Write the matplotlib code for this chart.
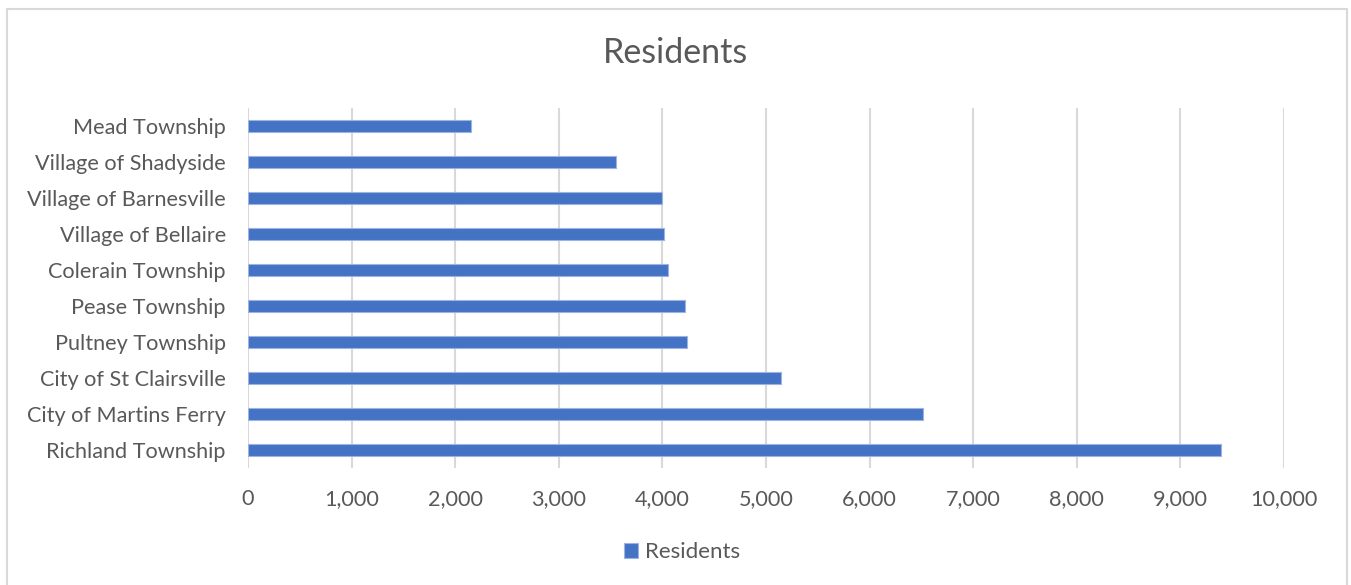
import matplotlib
matplotlib.use("Agg")
import matplotlib.pyplot as plt
from matplotlib.patches import Rectangle

# Data
places = ["Richland Township", "City of Martins Ferry", "City of St Clairsville",
          "Pultney Township", "Pease Township", "Colerain Township",
          "Village of Bellaire", "Village of Barnesville", "Village of Shadyside",
          "Mead Township"]
residents = [9390, 6518, 5142, 4237, 4218, 4057, 4015, 3999, 3549, 2150]
xticks = list(range(0, 10001, 1000))

plt.rcParams['font.family'] = ['Lato', 'DejaVu Sans']
text_col = '#595959'

fig = plt.figure(figsize=(13.51, 5.85), dpi=100)
ax = fig.add_axes([248 / 1351, 1 - 468 / 585, (1284 - 248) / 1351, 360 / 585])

ax.barh(range(len(places)), residents, height=0.36, color='#4472C4',
        edgecolor='#9DB4E0', linewidth=0.8, label='Residents', zorder=3)

ax.set_xlim(0, 10000)
ax.set_ylim(-0.5, len(places) - 0.5)
ax.set_xticks(xticks)
ax.set_xticklabels([f"{v:,}" for v in xticks])
ax.set_yticks(range(len(places)))
ax.set_yticklabels(places)
ax.tick_params(axis='both', length=0, labelsize=15.6, labelcolor=text_col)
ax.tick_params(axis='x', pad=15)
ax.tick_params(axis='y', pad=16)
ax.grid(axis='x', color='#D9D9D9', linewidth=1.5, zorder=0)
for s in ax.spines.values():
    s.set_visible(False)

fig.text(676 / 1351, 1 - 53 / 585, 'Residents', ha='center', va='center',
         fontsize=24.5, color=text_col)

leg = fig.legend(loc='center', bbox_to_anchor=(682 / 1351, 1 - 552 / 585),
                 frameon=False, fontsize=16, handlelength=0.65, handleheight=0.65,
                 handletextpad=0.3)
for t in leg.get_texts():
    t.set_color(text_col)

# outer chart border (bottom edge runs off the image)
fig.patches.append(Rectangle((6.5 / 1351, -0.05), 1340 / 1351, 1.05 - 8.5 / 585,
                             transform=fig.transFigure, fill=False,
                             edgecolor='#D9D9D9', linewidth=1.5))

fig.savefig('out.png', dpi=100)
